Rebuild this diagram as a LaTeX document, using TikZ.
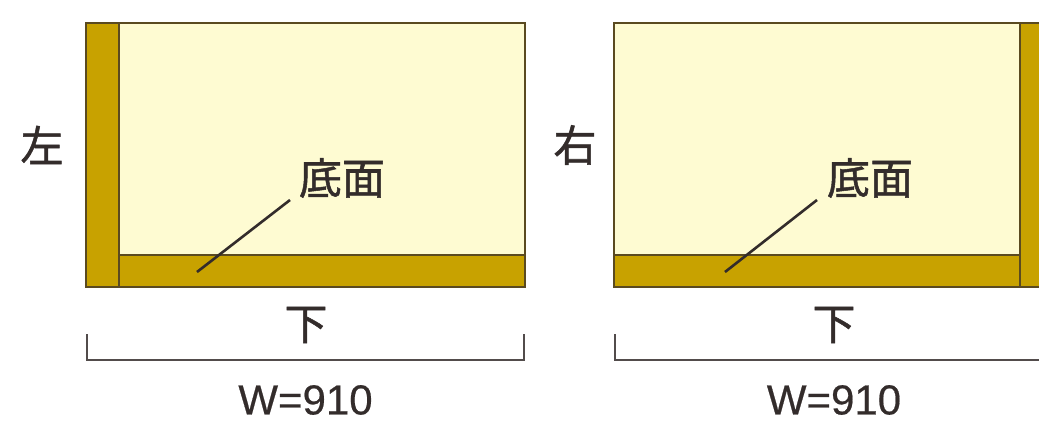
\documentclass[tikz,border=0pt]{standalone}
\usepackage{fontspec}
\setmainfont{Liberation Sans}[RawFeature={embolden=0.5}]
\newfontfamily\cjk{Noto Sans CJK JP}[RawFeature={embolden=1.2}]
\definecolor{ink}{HTML}{332C2B}
\definecolor{cream}{HTML}{FEFBD2}
\definecolor{gold}{HTML}{C8A200}
\definecolor{edge}{HTML}{5A4A20}
\tikzset{
  x=1pt,y=-1pt,
  board/.style={draw=edge,line width=1.3pt,fill=gold},
  panel/.style={draw=edge,line width=1.3pt,fill=cream},
  dim/.style={draw=ink!85,line width=1.5pt},
  leader/.style={draw=ink,line width=2.6pt},
  jp/.style={text=ink,inner sep=0pt,font=\fontsize{43}{43}\selectfont\cjk},
  lat/.style={text=ink,inner sep=0pt,font=\fontsize{42}{42}\selectfont},
}
\begin{document}
\begin{tikzpicture}
\useasboundingbox (0,0) rectangle (1039,422);
\clip (0,0) rectangle (1039,422);
% left panel
\draw[panel] (86,23) rectangle (525,287);
\draw[board] (86,23) rectangle (119,287);
\draw[board] (119,255) rectangle (525,287);
\node[jp] (l) at (42,145) {左};
\node[jp] (lb) at (342,178) {底面};
\node[jp] (ls) at (306,325) {下};
\coordinate (la) at (290,200);
\coordinate (lz) at (197,272);
\draw[leader] (la) -- (lz);
\coordinate (d1) at (87,334);
\coordinate (d2) at (87,360);
\coordinate (d3) at (524,360);
\coordinate (d4) at (524,334);
\draw[dim] (d1) -- (d2) -- (d3) -- (d4);
\node[lat] (lw) at (305.5,400) {W=910};
% right panel
\draw[panel] (614,23) rectangle (1060,287);
\draw[board] (1020,23) rectangle (1060,287);
\draw[board] (614,255) rectangle (1020,287);
\node[jp] (r) at (575,145) {右};
\node[jp] (rb) at (870,178) {底面};
\node[jp] (rs) at (834,325) {下};
\coordinate (ra) at (817,200);
\coordinate (rz) at (725,272);
\draw[leader] (ra) -- (rz);
\coordinate (e1) at (615,334);
\coordinate (e2) at (615,360);
\coordinate (e3) at (1060,360);
\draw[dim] (e1) -- (e2) -- (e3);
\node[lat] (rw) at (834,400) {W=910};
\end{tikzpicture}
\end{document}
